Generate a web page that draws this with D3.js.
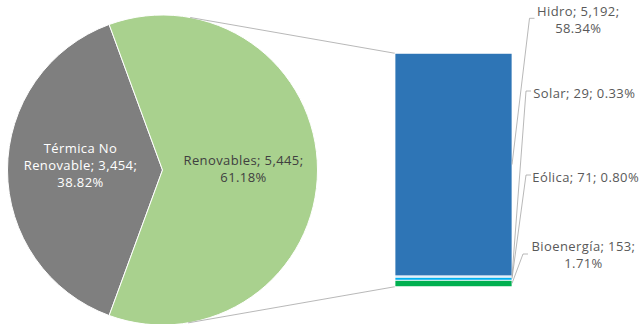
<!DOCTYPE html>
<html><head><meta charset="utf-8">
<script src="https://cdn.jsdelivr.net/npm/d3@7"></script>
<style>
html,body{margin:0;padding:0;background:#fff;}
svg{display:block;}
text{font-family:"Open Sans", Lato, sans-serif; letter-spacing:0.4px;}
</style></head>
<body>
<svg id="chart" width="641" height="324"></svg>
<script>
// ---- data ----
const pieCategories = ["Térmica No Renovable", "Renovables"];
const pieValues = [3454, 5445];
const piePercents = ["38.82%", "61.18%"];
const pieLabelLines = [["Térmica No", "Renovable; 3,454;", "38.82%"], ["Renovables; 5,445;", "61.18%"]];

const barCategories = ["Bioenergía", "Eólica", "Solar", "Hidro"];
const barValues = [153, 71, 29, 5192];
const barPercents = ["1.71%", "0.80%", "0.33%", "58.34%"];
const barLabelLines = [["Bioenergía; 153;", "1.71%"], ["Eólica; 71; 0.80%"], ["Solar; 29; 0.33%"], ["Hidro; 5,192;", "58.34%"]];

// ---- styles / layout ----
const pieColors = ["#7F7F7F", "#A9D18E"];
const pieTextColors = ["#FFFFFF", "#404040"];
const barColors = ["#00B050", "#00B0F0", "#BDD7EE", "#2E75B6"];
const cx = 162.5, cy = 170, R = 155;
const barX0 = 395, barX1 = 512, barTop = 53.3, barBottom = 286.7;
const pieLabelPos = [[80.5, 148], [243.5, 160]];
// label centre x, first line centre y, tick y, tick x start
const barLabelPos = [
  {x: 583.5, y: 246, ty: 254, tx: 523},
  {x: 585.7, y: 176.7, ty: 175, tx: 526},
  {x: 584.3, y: 92.7, ty: 91, tx: 526},
  {x: 578.3, y: 11.3, ty: 18.3, tx: 529.5}
];
const lineH = 16.8;
const fontSize = 13;

const svg = d3.select("#chart");

// ---- pie ----
const total = d3.sum(pieValues);
const f = pieValues[0] / total;
const start = 1.5 * Math.PI - f * Math.PI;
const pie = d3.pie().sort(null).startAngle(start).endAngle(start + 2 * Math.PI);
const arcs = pie(pieValues);
const arc = d3.arc().innerRadius(0).outerRadius(R);
const gPie = svg.append("g").attr("transform", `translate(${cx},${cy})`);
gPie.selectAll("path").data(arcs).join("path")
  .attr("d", arc)
  .attr("fill", (d, i) => pieColors[i])
  .attr("stroke", "#fff").attr("stroke-width", 1);

pieLabelLines.forEach((lines, i) => {
  const t = svg.append("text")
    .attr("text-anchor", "middle")
    .attr("font-size", fontSize)
    .attr("fill", pieTextColors[i]);
  lines.forEach((s, k) => {
    t.append("tspan").attr("x", pieLabelPos[i][0]).attr("y", pieLabelPos[i][1] + k * lineH)
      .attr("dominant-baseline", "central").text(s);
  });
});

// ---- bar ----
const y = d3.scaleLinear().domain([0, pieValues[1]]).range([barBottom, barTop]);
let cum = 0;
const segs = barValues.map((v, i) => { const s = {i, v, y0: cum, y1: cum + v}; cum += v; return s; });

// series lines from pie to bar
const a1 = 10.3 * Math.PI / 180, a2 = (180 - 9.5) * Math.PI / 180;
const sl = svg.append("g").attr("stroke", "#A6A6A6").attr("stroke-width", 0.8).attr("fill", "none");
sl.append("line").attr("x1", cx + R * Math.sin(a1)).attr("y1", cy - R * Math.cos(a1))
  .attr("x2", barX0).attr("y2", y(cum));
sl.append("line").attr("x1", cx + R * Math.sin(a2)).attr("y1", cy - R * Math.cos(a2))
  .attr("x2", barX0).attr("y2", y(0));

svg.append("g").selectAll("rect").data(segs).join("rect")
  .attr("x", barX0).attr("width", barX1 - barX0)
  .attr("y", d => y(d.y1)).attr("height", d => y(d.y0) - y(d.y1))
  .attr("fill", d => barColors[d.i])
  .attr("stroke", "#fff").attr("stroke-width", 0.75);

// leader lines + labels
const ll = svg.append("g").attr("stroke", "#A6A6A6").attr("stroke-width", 0.8).attr("fill", "none");
segs.forEach(d => {
  const p = barLabelPos[d.i];
  const my = y((d.y0 + d.y1) / 2);
  ll.append("polyline").attr("points", `${barX1},${my} ${p.tx},${p.ty} ${p.tx + 5},${p.ty}`);
  const t = svg.append("text").attr("text-anchor", "middle").attr("font-size", fontSize).attr("fill", "#595959");
  barLabelLines[d.i].forEach((s, k) => {
    t.append("tspan").attr("x", p.x).attr("y", p.y + k * lineH).attr("dominant-baseline", "central").text(s);
  });
});
</script>
</body></html>
